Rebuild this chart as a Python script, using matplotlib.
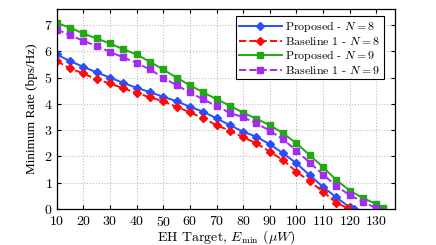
import numpy as np
import matplotlib
matplotlib.use('Agg')
import matplotlib.pyplot as plt

plt.rcParams['font.family'] = 'serif'
plt.rcParams['font.serif'] = ['cmr10', 'DejaVu Serif']
plt.rcParams['mathtext.fontset'] = 'cm'
plt.rcParams['axes.formatter.use_mathtext'] = True

# EH target (uW) for each curve
x_prop8 = list(range(10, 125, 5)) + [121.5]
x_base8 = list(range(10, 120, 5)) + [119.5]
x_prop9 = list(range(10, 135, 5)) + [132.5]
x_base9 = list(range(10, 135, 5))

# minimum rate (bps/Hz)
prop8 = [5.88, 5.63, 5.41, 5.2, 5.0, 4.8, 4.61, 4.45, 4.27, 4.1, 3.89, 3.7,
         3.45, 3.19, 2.94, 2.75, 2.46, 2.12, 1.74, 1.28, 0.84, 0.44, 0.06, 0.0]
base8 = [5.63, 5.35, 5.16, 4.93, 4.78, 4.59, 4.42, 4.25, 4.1, 3.89, 3.68, 3.45,
         3.19, 2.98, 2.73, 2.5, 2.18, 1.86, 1.42, 1.05, 0.66, 0.23, 0.02]
prop9 = [7.08, 6.9, 6.68, 6.49, 6.3, 6.08, 5.88, 5.6, 5.31, 5.0, 4.71, 4.44,
         4.18, 3.93, 3.67, 3.43, 3.19, 2.88, 2.5, 2.05, 1.59, 1.1, 0.7, 0.41,
         0.19, 0.02]
base9 = [6.83, 6.62, 6.4, 6.2, 5.98, 5.77, 5.56, 5.31, 5.0, 4.71, 4.44, 4.17,
         3.92, 3.66, 3.49, 3.26, 2.98, 2.65, 2.22, 1.76, 1.31, 0.87, 0.53, 0.27,
         0.03]

labels = [r'Proposed - $N = 8$', r'Baseline 1 - $N = 8$',
          r'Proposed - $N = 9$', r'Baseline 1 - $N = 9$']

fig = plt.figure(figsize=(4.36, 2.45), dpi=100)
ax = fig.add_axes([0.130, 0.147, 0.776, 0.815])

ax.plot(x_prop8, prop8, '-D', color='#2a4dff', lw=1.4, ms=4.2, label=labels[0])
ax.plot(x_base8, base8, '--D', color='#ff0a0a', lw=1.4, ms=4.5, label=labels[1])
ax.plot(x_prop9, prop9, '-s', color='#22a812', lw=1.4, ms=4.2, label=labels[2])
ax.plot(x_base9, base9, '--s', color='#a22cf0', lw=1.4, ms=4.2, label=labels[3])

ax.set_xlim(10, 137)
ax.set_ylim(0, 7.6)
ax.set_xticks(np.arange(10, 131, 10))
ax.set_yticks(np.arange(0, 8, 1))
ax.tick_params(direction='in', top=True, right=True, labelsize=10, length=3)
ax.tick_params(axis='x', pad=4)
ax.tick_params(axis='y', pad=3)
ax.grid(True, linestyle=':', color='#c0c0c0', linewidth=0.8)
for s in ax.spines.values():
    s.set_linewidth(0.9)

ax.set_xlabel(r'EH Target, $E_{\mathrm{min}}$ $(\mu W)$', fontsize=10,
              labelpad=0)
ax.set_ylabel('Minimum Rate (bps/Hz)', fontsize=9.5, family='Liberation Serif',
              labelpad=4)

leg = ax.legend(loc='upper right', bbox_to_anchor=(0.967, 0.968),
                fontsize=8.6, frameon=True, fancybox=False,
                edgecolor='black', framealpha=1, borderpad=0.25,
                labelspacing=0.1, handlelength=3.6, handletextpad=0.3,
                borderaxespad=0, numpoints=1)
leg.get_frame().set_linewidth(0.8)

fig.savefig('out.png', dpi=100)
